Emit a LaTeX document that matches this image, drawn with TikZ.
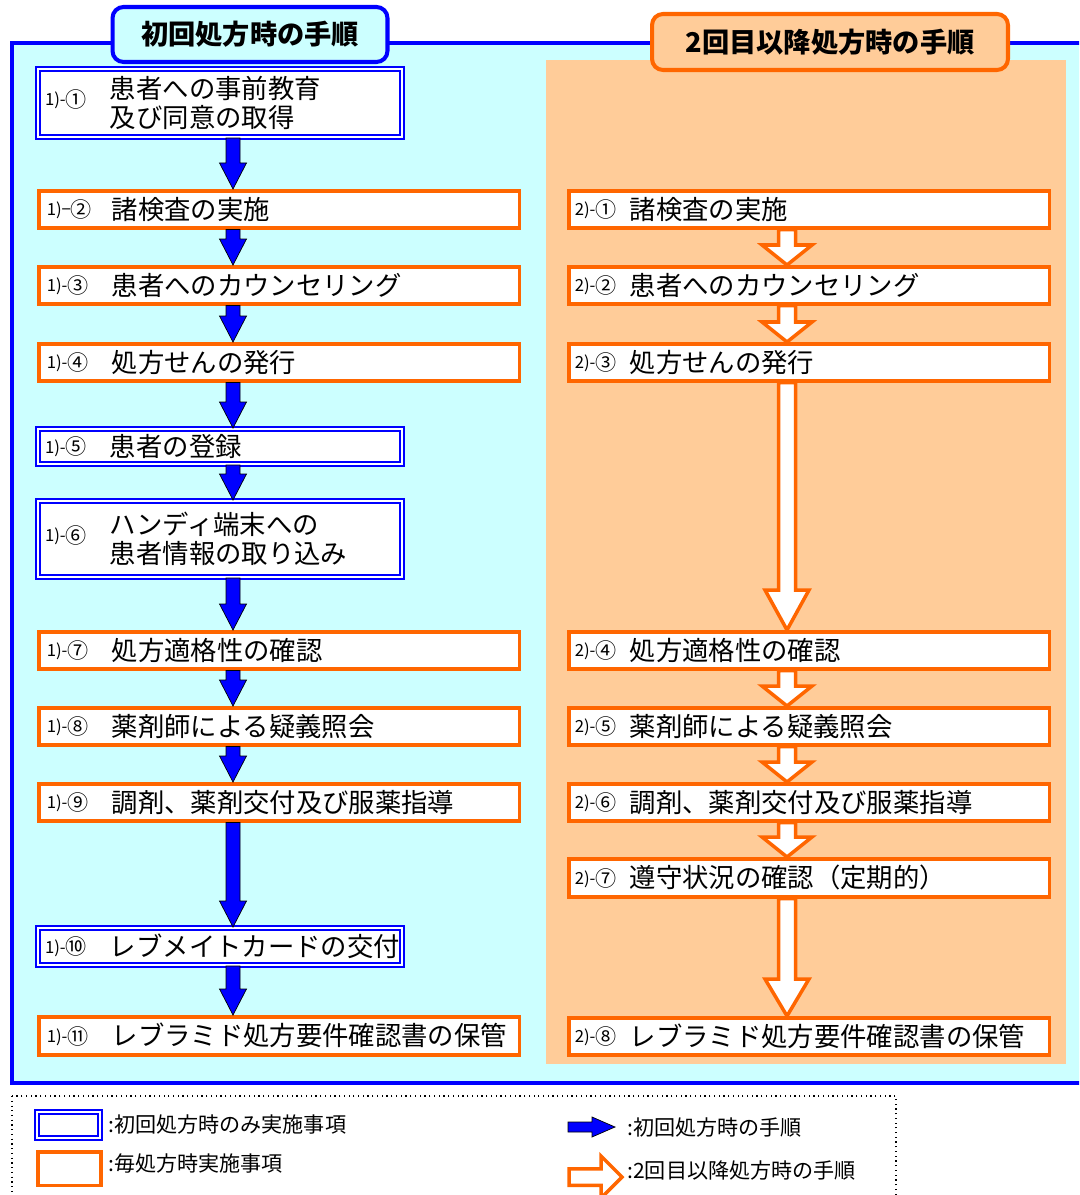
\documentclass[tikz,border=0pt]{standalone}
\usepackage{fontspec}
\setmainfont{Noto Sans CJK JP}
\usepackage{tikz}
\usetikzlibrary{calc,positioning}

\definecolor{panelcyan}{HTML}{CCFFFF}
\definecolor{peach}{HTML}{FFCC99}
\definecolor{flowblue}{HTML}{0000FF}
\definecolor{floworange}{HTML}{FF6600}

\newcommand{\stepfont}{\fontsize{15}{16.5}\selectfont}
\newcommand{\titlefont}{\fontsize{15.5}{17}\selectfont\bfseries}
\newcommand{\keyfont}{\fontsize{12}{13}\selectfont}
\newcommand{\stepnum}[3][1.3cm]{\makebox[#1][l]{\raisebox{2pt}{\fontsize{9.5}{10}\selectfont #2}%
    \raisebox{1pt}{\fontsize{12}{12}\selectfont #3}}}

\tikzset{
    arrowdims/.code n args={3}{\def\shaftw{#1}\def\headw{#2}\def\headl{#3}},
    blockarrow/.style={to path={let \p1=(\tikztostart), \p2=(\tikztotarget),
        \p3=($(\p2)!\headl!(\p1)$) in
        ($(\p1)!\shaftw!90:(\p2)$) -- ($(\p3)!\shaftw!90:(\p2)$) -- ($(\p3)!\headw!90:(\p2)$) -- (\p2)
        -- ($(\p3)!\headw!-90:(\p2)$) -- ($(\p3)!\shaftw!-90:(\p2)$) -- ($(\p1)!\shaftw!-90:(\p2)$) -- cycle}},
    firstarrow/.style={blockarrow, fill=flowblue, arrowdims={0.14cm}{0.27cm}{0.52cm}},
    againarrow/.style={blockarrow, draw=floworange, fill=white, line width=2pt, line join=miter,
        arrowdims={0.17cm}{0.5cm}{0.4cm}},
    longagain/.style={againarrow, arrowdims={0.17cm}{0.44cm}{0.8cm}},
    onlyline/.style={draw=flowblue, double=white, double distance=1.15pt, line width=1.15pt, fill=white},
    everyline/.style={draw=floworange, line width=2pt, fill=white},
    stepbox/.style={anchor=north west, inner ysep=0pt, align=left, font=\stepfont},
    onlystep/.style={onlyline, stepbox, inner xsep=0.14cm, text width=7.0cm},
    everystep/.style={everyline, stepbox, inner xsep=0.16cm, text width=9.3cm, minimum height=0.74cm},
    againstep/.style={everystep, inner xsep=0.12cm, text width=9.38cm},
    titlebox/.style={rounded corners=0.22cm, line width=2.3pt, inner sep=0pt, font=\titlefont},
    keytext/.style={anchor=west, inner sep=0pt, font=\keyfont}
}

\begin{document}
\begin{tikzpicture}[x=0.02cm, y=-0.02cm]
    \useasboundingbox (0,0) rectangle (1079,1195);
    \clip (0,0) rectangle (1079,1195);

    % Panel
    \draw [draw=flowblue, line width=2.3pt, fill=panelcyan] (12,43) rectangle (1110,1083);
    \fill [peach] (546,60) rectangle (1066,1064);

    % Titles
    \node [titlebox, draw=flowblue, fill=panelcyan, minimum width=5.5cm, minimum height=1.1cm]
        (firsttitle) at (250,34.5) {初回処方時の手順};
    \node [titlebox, draw=floworange, fill=peach, minimum width=7.12cm, minimum height=1.12cm]
        (againtitle) at (830,42) {2回目以降処方時の手順};

    % First prescription
    \node [onlystep, minimum height=1.36cm] (s1) at (37,68)
        {\stepnum{1)-}{①}\parbox[c]{6cm}{患者への事前教育\\及び同意の取得}};
    \node [everystep] (s2) at (37,189) {\stepnum{1)−}{②}諸検査の実施};
    \node [everystep] (s3) at (37,265) {\stepnum{1)-}{③}患者へのカウンセリング};
    \node [everystep] (s4) at (37,342) {\stepnum{1)-}{④}処方せんの発行};
    \node [onlystep, minimum height=0.7cm] (s5) at (37,428) {\stepnum{1)-}{⑤}患者の登録};
    \node [onlystep, minimum height=1.52cm] (s6) at (37,500)
        {\stepnum{1)-}{⑥}\parbox[c]{6cm}{ハンディ端末への\\患者情報の取り込み}};
    \node [everystep] (s7) at (37,630) {\stepnum{1)-}{⑦}処方適格性の確認};
    \node [everystep] (s8) at (37,706) {\stepnum{1)-}{⑧}薬剤師による疑義照会};
    \node [everystep] (s9) at (37,782) {\stepnum{1)-}{⑨}調剤、薬剤交付及び服薬指導};
    \node [onlystep, minimum height=0.74cm] (s10) at (37,927) {\stepnum{1)-}{⑩}レブメイトカードの交付};
    \node [everystep, minimum height=0.76cm] (s11) at (37,1015) {\stepnum{1)-}{⑪}レブラミド処方要件確認書の保管};

    % Second and later
    \node [againstep] (r1) at (567,189) {\stepnum[1.1cm]{2)-}{①}諸検査の実施};
    \node [againstep] (r2) at (567,265) {\stepnum[1.1cm]{2)-}{②}患者へのカウンセリング};
    \node [againstep] (r3) at (567,342) {\stepnum[1.1cm]{2)-}{③}処方せんの発行};
    \node [againstep] (r4) at (567,630) {\stepnum[1.1cm]{2)-}{④}処方適格性の確認};
    \node [againstep] (r5) at (567,706) {\stepnum[1.1cm]{2)-}{⑤}薬剤師による疑義照会};
    \node [againstep] (r6) at (567,782) {\stepnum[1.1cm]{2)-}{⑥}調剤、薬剤交付及び服薬指導};
    \node [againstep, minimum height=0.76cm] (r7) at (567,857) {\stepnum[1.1cm]{2)-}{⑦}遵守状況の確認（定期的）};
    \node [againstep] (r8) at (567,1016) {\stepnum[1.1cm]{2)-}{⑧}レブラミド処方要件確認書の保管};

    % Arrows
    \coordinate (laxis) at (233,0);
    \coordinate (raxis) at (787,0);
    \foreach \a/\b in {s1/s2, s2/s3, s3/s4, s4/s5, s5/s6, s6/s7, s7/s8, s8/s9, s9/s10, s10/s11}
        \draw [firstarrow] (\a.south -| laxis) to (\b.north -| laxis);
    \foreach \a/\b in {r1/r2, r2/r3, r4/r5, r5/r6, r6/r7}
        \draw [againarrow] (\a.south -| raxis) to (\b.north -| raxis);
    \draw [longagain] (r3.south -| raxis) to (r4.north -| raxis);
    \draw [longagain, arrowdims={0.17cm}{0.44cm}{0.74cm}] (r7.south -| raxis) to (r8.north -| raxis);

    % Legend
    \draw [dotted, line width=0.7pt] (12,1096) rectangle (896,1230);
    \node [onlyline, anchor=north west, inner sep=0pt, minimum width=1.26cm, minimum height=0.52cm]
        (keyonly) at (36,1111) {};
    \node [everyline, anchor=north west, inner sep=0pt, minimum width=1.27cm, minimum height=0.67cm]
        (keyevery) at (36,1150) {};
    \node [keytext] (keyonlytext) at (108,1124) {:初回処方時のみ実施事項};
    \node [keytext] (keyeverytext) at (108,1163) {:毎処方時実施事項};
    \coordinate (keyfirststart) at (568,1127);
    \coordinate (keyfirstend) at (615,1127);
    \coordinate (keyagainstart) at (569,1177);
    \coordinate (keyagainend) at (622,1177);
    \draw [firstarrow, arrowdims={0.1cm}{0.2cm}{0.46cm}] (keyfirststart) to (keyfirstend);
    \draw [againarrow, arrowdims={0.165cm}{0.42cm}{0.42cm}] (keyagainstart) to (keyagainend);
    \node [keytext] (keyfirsttext) at (627,1127) {:初回処方時の手順};
    \node [keytext] (keyagaintext) at (627,1170) {:2回目以降処方時の手順};
\end{tikzpicture}
\end{document}
